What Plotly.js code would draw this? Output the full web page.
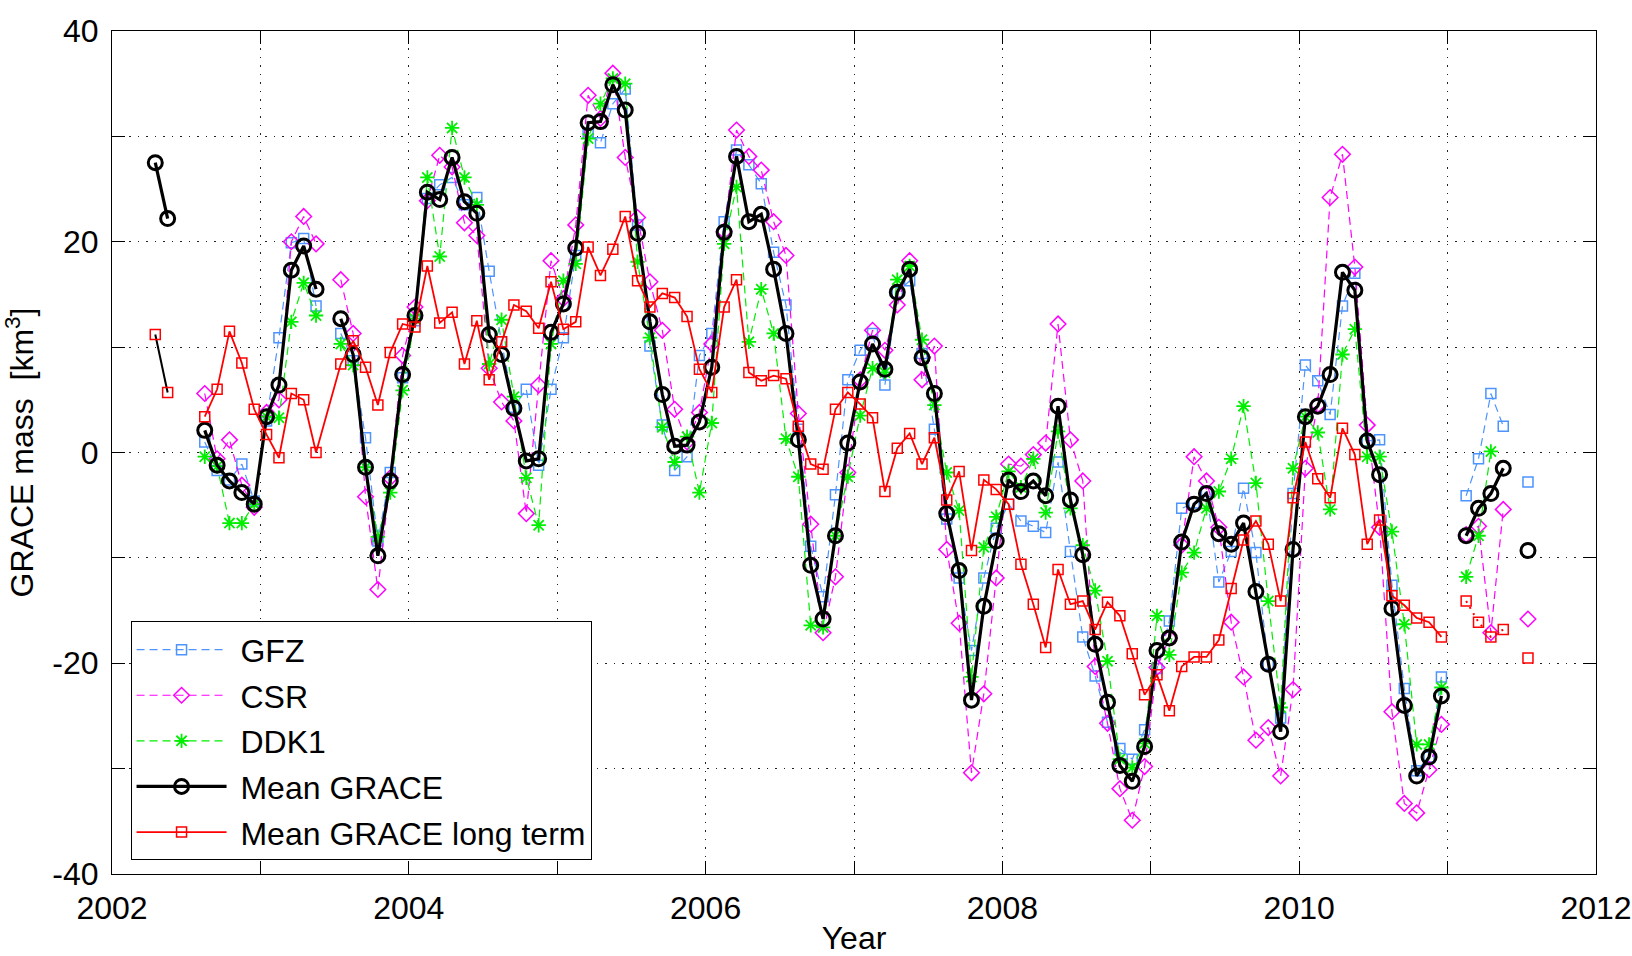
<!DOCTYPE html>
<html>
<head>
<meta charset="utf-8">
<script src="https://cdn.plot.ly/plotly-3.0.1.min.js"></script>
<style>html,body{margin:0;padding:0;background:#fff;}#chart{width:1632px;height:956px;}</style>
</head>
<body>
<div id="chart"></div>
<script>
// Monthly GRACE solutions (km^3), null = no solution that month
const months = [
"2002-04","2002-05","2002-06","2002-07","2002-08","2002-09","2002-10","2002-11","2002-12",
"2003-01","2003-02","2003-03","2003-04","2003-05","2003-06","2003-07","2003-08","2003-09","2003-10","2003-11","2003-12",
"2004-01","2004-02","2004-03","2004-04","2004-05","2004-06","2004-07","2004-08","2004-09","2004-10","2004-11","2004-12",
"2005-01","2005-02","2005-03","2005-04","2005-05","2005-06","2005-07","2005-08","2005-09","2005-10","2005-11","2005-12",
"2006-01","2006-02","2006-03","2006-04","2006-05","2006-06","2006-07","2006-08","2006-09","2006-10","2006-11","2006-12",
"2007-01","2007-02","2007-03","2007-04","2007-05","2007-06","2007-07","2007-08","2007-09","2007-10","2007-11","2007-12",
"2008-01","2008-02","2008-03","2008-04","2008-05","2008-06","2008-07","2008-08","2008-09","2008-10","2008-11","2008-12",
"2009-01","2009-02","2009-03","2009-04","2009-05","2009-06","2009-07","2009-08","2009-09","2009-10","2009-11","2009-12",
"2010-01","2010-02","2010-03","2010-04","2010-05","2010-06","2010-07","2010-08","2010-09","2010-10","2010-11","2010-12",
"2011-01","2011-02","2011-03","2011-04","2011-05","2011-06","2011-07"];

const gfz = [
null,null,null,null,1.0,-1.7,-2.6,-1.1,-4.6,
3.0,10.9,19.9,20.3,13.9,null,11.3,8.7,1.4,-8.4,-1.9,7.1,
12.5,24.1,25.4,26.1,23.5,24.2,17.2,10.5,4.3,6.0,-1.2,6.0,
10.9,18.7,30.3,29.4,33.1,34.5,21.6,10.1,2.6,-1.7,-0.4,9.2,
11.3,21.9,28.7,27.3,25.5,19.0,14.0,2.2,-8.9,-13.7,-4.0,6.9,
9.7,11.3,6.4,15.2,16.3,9.4,2.2,-6.3,-11.9,-18.8,-11.9,-7.2,
-4.9,-6.5,-7.0,-7.6,-0.9,-9.4,-17.5,-21.2,-25.6,-28.1,-29.1,-26.3,
-20.5,-16.0,-5.3,-4.8,-3.7,-12.3,-9.4,-3.4,-9.5,-20.1,-25.2,-3.9,
8.3,6.8,3.6,13.9,17.0,1.1,1.2,-12.6,-22.4,-30.2,-28.9,-21.3,
null,-4.1,-0.6,5.6,2.5,null,-2.8];

const csr = [
null,null,null,null,5.6,-0.6,1.2,-3.1,-5.2,
3.8,5.0,20.0,22.4,19.8,null,16.4,11.3,-4.2,-13.0,-2.4,9.2,
13.8,23.9,28.2,27.1,21.8,20.6,8.0,4.8,3.0,-5.8,6.4,18.2,
14.6,21.6,33.9,31.7,36.0,28.0,22.3,16.2,11.6,4.1,1.0,3.8,
10.3,21.0,30.6,28.1,26.8,21.9,18.7,3.7,-6.8,-17.1,-11.8,-1.9,
6.9,11.6,9.7,14.0,18.2,6.9,10.1,-9.2,-16.2,-30.4,-22.9,-11.9,
-1.1,-1.3,-0.2,0.9,12.2,1.2,-2.7,-20.3,-25.7,-31.9,-34.9,-29.8,
-20.4,-17.6,-8.8,-0.4,-2.7,-7.1,-16.1,-21.3,-27.3,-26.1,-30.7,-22.5,
-1.5,4.5,24.2,28.3,17.6,2.6,-7.1,-24.6,-33.3,-34.2,-30.1,-25.8,
null,-7.8,-7.0,-17.1,-5.4,null,-15.8];

const ddk1 = [
null,null,null,null,-0.4,-1.3,-6.7,-6.7,-4.9,
3.4,3.3,12.4,16.1,13.0,null,10.3,8.3,-1.4,-8.0,-3.8,5.9,
12.7,26.1,18.6,30.8,26.1,23.5,8.4,12.6,5.3,-2.4,-6.9,10.3,
16.3,17.9,29.8,33.1,35.5,35.0,18.1,10.9,2.4,-0.9,1.5,-3.8,
2.8,19.8,25.2,10.5,15.5,11.3,1.3,-2.3,-16.4,-16.6,-7.9,-2.3,
3.5,8.0,7.6,16.4,17.7,10.7,4.5,-1.9,-5.5,-21.3,-9.0,-6.1,
-1.8,-3.3,-0.6,-5.7,2.0,-5.3,-8.8,-13.1,-19.8,-29.1,-29.9,-27.6,
-15.5,-19.2,-11.4,-9.5,-5.3,-3.7,-0.6,4.4,-2.9,-14.1,-24.2,-1.5,
3.4,1.9,-5.4,9.3,11.7,-0.4,-0.4,-7.5,-16.3,-27.7,-27.7,-22.3,
null,-11.8,-7.9,0.1,null,null,null];

const meanGrace = [
27.5,22.2,null,null,2.1,-1.2,-2.7,-3.8,-4.9,
3.4,6.4,17.3,19.6,15.5,null,12.7,9.3,-1.4,-9.8,-2.7,7.4,
13.0,24.7,24.0,28.0,23.8,22.7,11.2,9.3,4.2,-0.8,-0.6,11.4,
14.1,19.4,31.3,31.4,34.9,32.5,20.8,12.4,5.5,0.6,0.7,2.9,
8.1,20.9,28.1,21.9,22.6,17.4,11.3,1.2,-10.7,-15.8,-7.9,0.9,
6.7,10.3,7.9,15.2,17.4,9.0,5.6,-5.8,-11.2,-23.5,-14.6,-8.4,
-2.6,-3.7,-2.7,-4.1,4.4,-4.5,-9.7,-18.2,-23.7,-29.7,-31.2,-27.9,
-18.8,-17.6,-8.5,-4.9,-3.9,-7.7,-8.7,-6.7,-13.2,-20.1,-26.5,-9.2,
3.4,4.4,7.4,17.1,15.4,1.1,-2.1,-14.8,-24.0,-30.7,-28.9,-23.1,
null,-7.9,-5.3,-3.9,-1.5,null,-9.3];

const longTerm = [
11.2,5.7,null,null,3.4,6.0,11.5,8.5,4.1,
1.7,-0.5,5.6,5.0,0.0,null,8.4,10.6,8.1,4.5,9.5,12.2,
11.9,17.7,12.3,13.3,8.4,12.5,6.9,10.5,14.0,13.4,11.8,16.2,
11.7,12.4,19.5,16.8,19.3,22.4,16.3,13.8,15.1,14.7,12.9,7.9,
5.7,13.8,16.4,7.6,6.8,7.3,7.0,2.5,-1.1,-1.6,4.1,5.7,
4.6,3.3,-3.7,0.4,1.8,-1.1,1.4,-4.5,-1.8,-9.3,-2.6,-3.5,
-4.9,-10.6,-14.4,-18.5,-11.1,-14.4,-14.1,-16.8,-14.2,-15.5,-19.1,-23.0,
-21.1,-24.5,-20.3,-19.4,-19.4,-17.8,-12.9,-8.3,-6.5,-8.7,-14.1,-4.3,
1.0,-2.5,-4.3,2.3,-0.2,-8.7,-6.4,-13.6,-14.5,-15.7,-16.1,-17.5,
null,-14.1,-16.1,-17.5,-16.8,null,-19.5];

const seriesNames = ["GFZ","CSR","DDK1","Mean GRACE","Mean GRACE long term"];
const xTickVals = [2002,2004,2006,2008,2010,2012];
const xTickText = ["2002","2004","2006","2008","2010","2012"];
const yTickVals = [-40,-20,0,20,40];
const yTickText = ["-40","-20","0","20","40"];

// decimal year at mid-month
const t = months.map(s => { const [y,m] = s.split("-").map(Number); return y + (m - 0.5)/12; });

function segment(vals, from, to, dropNulls) {
  const xs = [], ys = [];
  const i0 = months.indexOf(from), i1 = months.indexOf(to);
  for (let i = i0; i <= i1; i++) {
    if (dropNulls && vals[i] === null) continue;
    xs.push(t[i]); ys.push(vals[i]);
  }
  return {x: xs, y: ys};
}

const FONT = "Liberation Sans, Arial, sans-serif";
const dashPat = "8px,5px";
const pad = "\u00a0";
const traces = [
  {x: t, y: gfz, name: pad + seriesNames[0], mode: "lines+markers", legendgroup: "a",
   line: {color: "#4d94ff", width: 1.2, dash: dashPat},
   marker: {symbol: "square-open", size: 10, color: "#4d94ff", line: {width: 1.5, color: "#4d94ff"}}},
  {x: t, y: csr, name: pad + seriesNames[1], mode: "lines+markers", legendgroup: "b",
   line: {color: "#ff00ff", width: 1.2, dash: dashPat},
   marker: {symbol: "diamond-open", size: 12, color: "#ff00ff", line: {width: 1.5, color: "#ff00ff"}}},
  {x: t, y: ddk1, name: pad + seriesNames[2], mode: "lines+markers", legendgroup: "c",
   line: {color: "#00ee00", width: 1.2, dash: dashPat},
   marker: {symbol: "asterisk-open", size: 12, color: "#00ee00", line: {width: 1.8, color: "#00ee00"}}},
  {x: t, y: meanGrace, name: pad + seriesNames[3], mode: "lines+markers", legendgroup: "d",
   line: {color: "#000000", width: 3.2},
   marker: {symbol: "circle-open", size: 14, color: "#000000", line: {width: 3, color: "#000000"}}}
];
const ltMain = segment(longTerm, "2002-08", "2010-12", true);
traces.push({x: ltMain.x, y: ltMain.y, name: pad + seriesNames[4], mode: "lines+markers", legendgroup: "e",
  line: {color: "#ff0000", width: 1.8},
  marker: {symbol: "square-open", size: 10, color: "#ff0000", line: {width: 1.5, color: "#ff0000"}}});
const ltEarly = segment(longTerm, "2002-04", "2002-05", false);
traces.push({x: ltEarly.x, y: ltEarly.y, showlegend: false, mode: "lines+markers", legendgroup: "e",
  line: {color: "#000000", width: 2},
  marker: {symbol: "square-open", size: 10, color: "#ff0000", line: {width: 1.5, color: "#ff0000"}}});
const ltLate = segment(longTerm, "2011-02", "2011-07", false);
traces.push({x: ltLate.x, y: ltLate.y, showlegend: false, mode: "lines+markers", legendgroup: "e",
  line: {color: "#ff0000", width: 2, dash: "2px,5px"},
  marker: {symbol: "square-open", size: 10, color: "#ff0000", line: {width: 1.5, color: "#ff0000"}}});

const gridStyle = {gridcolor: "#222", gridwidth: 1, griddash: "1.5px,7px"};
const axisCommon = Object.assign({
  showline: true, linecolor: "#000", linewidth: 1, mirror: "allticks",
  ticks: "inside", ticklen: 13, tickcolor: "#000", tickwidth: 1,
  showgrid: true, zeroline: false, tickmode: "array",
  tickfont: {family: FONT, size: 32, color: "#000"}
}, gridStyle);

const layout = {
  width: 1632, height: 956,
  margin: {l: 112, r: 36, t: 31, b: 82, pad: 0},
  paper_bgcolor: "#fff", plot_bgcolor: "#fff",
  font: {family: FONT, size: 32, color: "#000"},
  showlegend: true,
  xaxis: Object.assign({}, axisCommon, {
    range: [2002, 2012], tickvals: xTickVals, ticktext: xTickText,
    ticklabelstandoff: 6,
    minor: Object.assign({dtick: 1, tick0: 2002, ticks: "inside", ticklen: 13, tickcolor: "#000", tickwidth: 1, showgrid: true}, gridStyle),
    title: {text: "Year", font: {family: FONT, size: 32, color: "#000"}, standoff: 2}
  }),
  yaxis: Object.assign({}, axisCommon, {
    range: [-40, 40], tickvals: yTickVals, ticktext: yTickText,
    ticklabelstandoff: 6,
    minor: Object.assign({dtick: 10, tick0: 0, ticks: "inside", ticklen: 13, tickcolor: "#000", tickwidth: 1, showgrid: true}, gridStyle),
    title: {text: "GRACE mass\u00a0\u00a0[km<sup>3</sup>]", font: {family: FONT, size: 32, color: "#000"}, standoff: 18}
  }),
  legend: {
    x: 0.0125, y: 0.2997, xanchor: "left", yanchor: "top",
    bgcolor: "#fff", bordercolor: "#000", borderwidth: 1,
    font: {family: FONT, size: 32, color: "#000"},
    itemwidth: 90, traceorder: "grouped", tracegroupgap: 1
  }
};

Plotly.newPlot("chart", traces, layout, {displayModeBar: false, staticPlot: true});
</script>
</body>
</html>
